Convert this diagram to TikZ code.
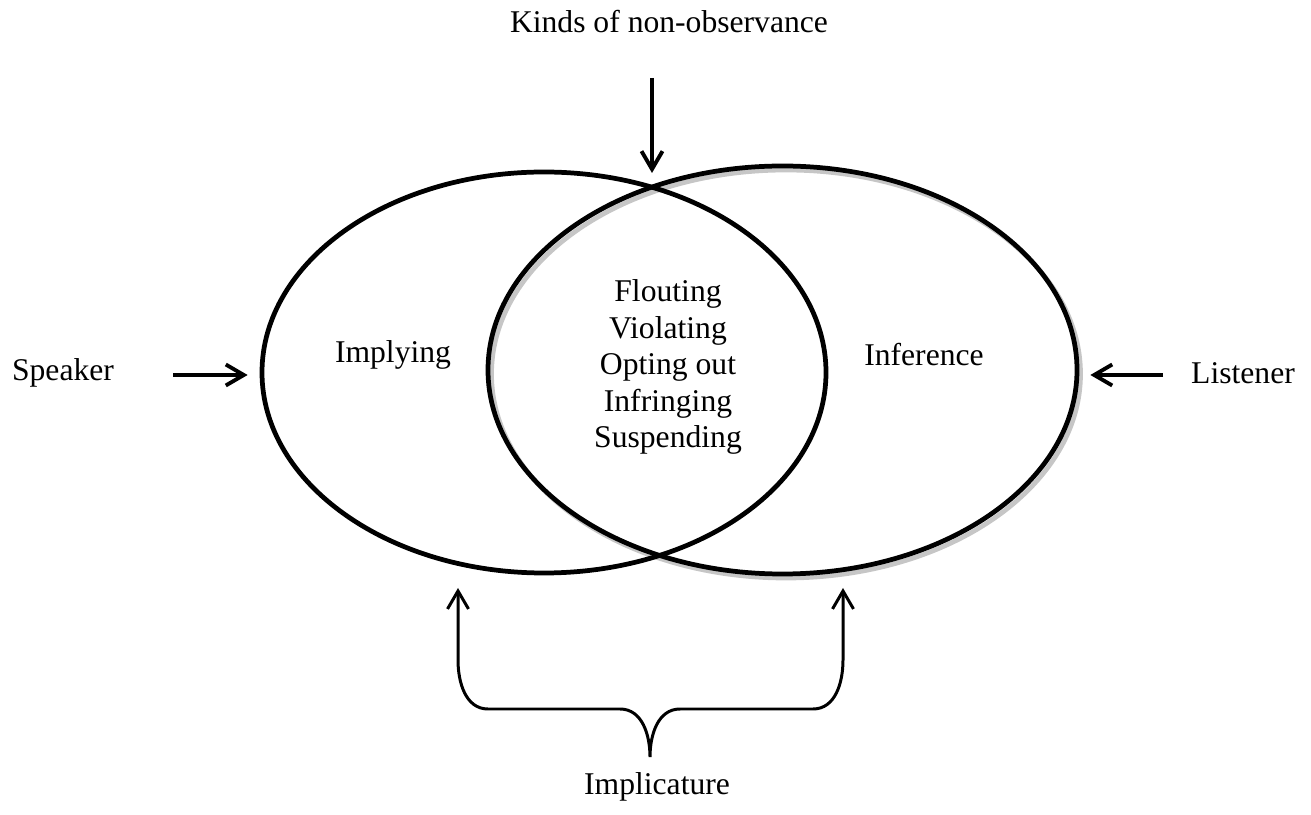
\documentclass[tikz,border=0pt]{standalone}
\usepackage{fontspec}
\setmainfont{Liberation Serif}
\usetikzlibrary{arrows.meta,shapes.geometric}

\tikzset{
    ring/.style={ellipse, draw, line width=2.7pt, inner sep=0pt},
    pointer/.style={-{Straight Barb[length=3.6mm,width=4.2mm]}, line width=2.2pt},
    word/.style={font=\fontsize{18}{20.8}\selectfont, align=center, inner sep=0pt}
}

\begin{document}
\begin{tikzpicture}
    \useasboundingbox (0,0) rectangle (26.22,16.28);

    % the two sets, shadow first
    \node[ring, draw=gray!45, minimum width=11.78cm, minimum height=8.16cm] (infshadow) at (15.72,8.80) {};
    \node[ring, minimum width=11.28cm, minimum height=8.02cm] (implyset) at (10.88,8.83) {};
    \node[ring, minimum width=11.78cm, minimum height=8.16cm] (inferset) at (15.65,8.88) {};

    \node[word] (implying) at (7.86,9.18) {Implying};
    \node[word] (inference) at (18.48,9.18) {Inference};
    \node[word] (kinds) at (13.36,8.94) {Flouting\\Violating\\Opting out\\Infringing\\Suspending};

    % outside labels
    \node[word] (speaker) at (1.26,8.82) {Speaker};
    \node[word] (listener) at (24.86,8.82) {Listener};
    \node[word] (nonobs) at (13.38,15.84) {Kinds of non-observance};
    \node[word] (implicature) at (13.14,0.54) {Implicature};

    \coordinate (spkstart) at (3.46,8.78);
    \coordinate (lisstart) at (23.26,8.78);
    \coordinate (topstart) at (13.04,14.72);
    \coordinate (toptip) at (13.04,12.82);
    \draw[pointer, shorten >=0.24cm] (spkstart) -- (spkstart -| implyset.west);
    \draw[pointer, shorten >=0.22cm] (lisstart) -- (lisstart -| inferset.east);
    \draw[pointer] (topstart) -- (toptip);

    % brace under the sets
    \coordinate (lefttip) at (9.16,4.52);
    \coordinate (righttip) at (16.86,4.52);
    \coordinate (bracept) at (13.0,1.14);
    \draw[pointer, line width=1.7pt, {Straight Barb[length=3.6mm,width=4.2mm]}-{Straight Barb[length=3.6mm,width=4.2mm]}]
        (lefttip) -- (9.16,3.08) to[out=-90,in=180] (9.76,2.10) -- (12.4,2.10)
        to[out=0,in=90] (bracept) to[out=90,in=180] (13.6,2.10) -- (16.26,2.10)
        to[out=0,in=-90] (16.86,3.08) -- (righttip);
\end{tikzpicture}
\end{document}
